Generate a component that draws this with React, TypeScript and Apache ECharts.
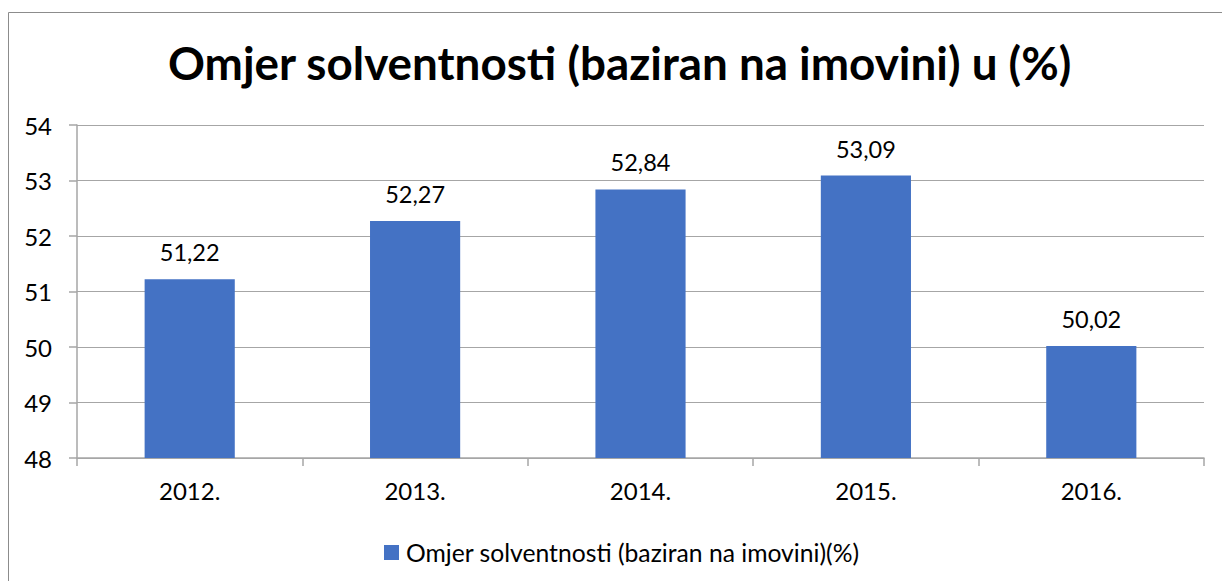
import React, { useEffect, useRef } from "react";
import * as echarts from "echarts";

const categories = ["2012.", "2013.", "2014.", "2015.", "2016."];
const values = [51.22, 52.27, 52.84, 53.09, 50.02];
const seriesName = "Omjer solventnosti (baziran na imovini)(%)";
const titleText = "Omjer solventnosti (baziran na imovini) u (%)";

export default function App() {
  const ref = useRef<HTMLDivElement>(null);
  useEffect(() => {
    if (!ref.current) return;
    const chart = echarts.init(ref.current, null, { renderer: "svg" });
    const font = "Lato, 'Open Sans', sans-serif";
    chart.setOption({
      animation: false,
      backgroundColor: "#ffffff",
      textStyle: { fontFamily: font },
      title: {
        text: titleText,
        left: 168,
        top: 39,
        padding: 0,
        textStyle: { fontFamily: font, fontSize: 45.8, fontWeight: "bold", color: "#000" },
      },
      graphic: [
        {
          type: "rect",
          shape: { x: 8.5, y: 12.5, width: 1300, height: 700 },
          style: { fill: "none", stroke: "#8c8c8c", lineWidth: 1 },
          silent: true,
        },
      ],
      legend: {
        top: 535,
        left: 379,
        itemWidth: 15,
        itemHeight: 15,
        itemGap: 10,
        icon: "rect",
        textStyle: { fontFamily: font, fontSize: 24.7, color: "#000", padding: [0, 0, 0, 2] },
        data: [seriesName],
      },
      grid: { left: 77, top: 125, right: 18, bottom: 123 },
      xAxis: {
        type: "category",
        data: categories,
        axisLine: { lineStyle: { color: "#a6a6a6", width: 1.5 } },
        axisTick: { show: true, length: 8, lineStyle: { color: "#a6a6a6", width: 1.5 } },
        axisLabel: { color: "#000", fontSize: 24, margin: 20, fontFamily: font },
      },
      yAxis: {
        type: "value",
        min: 48,
        max: 54,
        interval: 1,
        axisLine: { show: true, lineStyle: { color: "#a6a6a6", width: 1.5 } },
        axisTick: { show: true, length: 8, lineStyle: { color: "#a6a6a6", width: 1.5 } },
        axisLabel: { color: "#000", fontSize: 24, margin: 25, fontFamily: font },
        splitLine: { lineStyle: { color: "#a6a6a6", width: 1 } },
      },
      series: [
        {
          name: seriesName,
          type: "bar",
          data: values,
          barWidth: "40%",
          itemStyle: { color: "#4472C4" },
          label: {
            show: true,
            position: "top",
            distance: 15,
            color: "#000",
            fontSize: 23.5,
            fontFamily: font,
            formatter: (p: any) => p.value.toFixed(2).replace(".", ","),
          },
        },
      ],
    });
    return () => chart.dispose();
  }, []);
  return (
    <div
      ref={ref}
      style={{ position: "fixed", left: 0, top: 0, width: 1222, height: 581 }}
    />
  );
}
